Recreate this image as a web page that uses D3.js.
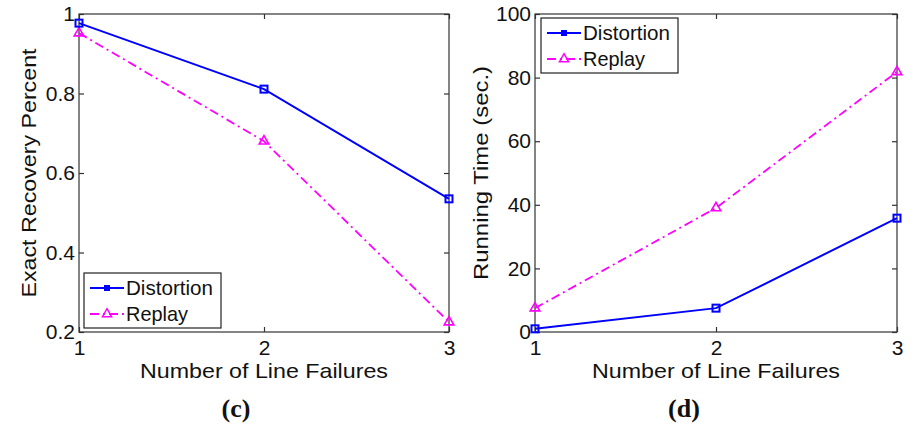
<!DOCTYPE html>
<html>
<head>
<meta charset="utf-8">
<script src="https://cdn.jsdelivr.net/npm/d3@7"></script>
<style>
  body { margin: 0; background: #fff; }
  svg text { font-family: "Liberation Sans", Arial, sans-serif; fill: #111; }
</style>
</head>
<body>
<svg id="chart" width="914" height="430"></svg>
<script>
// data
const failures = [1, 2, 3];
const seriesNames = ['Distortion', 'Replay'];

const recoveryDistortion = [0.977, 0.811, 0.535];
const recoveryReplay = [0.952, 0.680, 0.225];
const recoveryTicks = [0.2, 0.4, 0.6, 0.8, 1];

const timeDistortion = [1.0, 7.5, 35.8];
const timeReplay = [7.5, 39.0, 81.8];
const timeTicks = [0, 20, 40, 60, 80, 100];

const BLUE = '#0000ff';
const MAGENTA = '#ff00ff';
const AXIS = '#333';
const DASHDOT = '9,4,2,4';

const svg = d3.select('#chart');

function drawPanel(opts) {
    const x = d3.scaleLinear().domain([1, 3]).range([opts.left, opts.right]);
    const y = d3.scaleLinear().domain(opts.yDomain).range([opts.bottom, opts.top]);
    const g = svg.append('g');

    // box
    g.append('rect')
        .attr('x', opts.left).attr('y', opts.top)
        .attr('width', opts.right - opts.left).attr('height', opts.bottom - opts.top)
        .attr('fill', 'none').attr('stroke', AXIS).attr('stroke-width', 1.2);

    // axes with inward ticks, mirrored on top/right
    g.append('g').attr('transform', `translate(0,${opts.bottom})`)
        .call(d3.axisBottom(x).tickValues(failures).tickSize(-5).tickPadding(8).tickFormat(d3.format('d')));
    g.append('g').attr('transform', `translate(0,${opts.top})`)
        .call(d3.axisTop(x).tickValues(failures).tickSize(-5).tickFormat(''));
    g.append('g').attr('transform', `translate(${opts.left},0)`)
        .call(d3.axisLeft(y).tickValues(opts.ticks).tickSize(-5).tickPadding(4).tickFormat(opts.fmt));
    g.append('g').attr('transform', `translate(${opts.right},0)`)
        .call(d3.axisRight(y).tickValues(opts.ticks).tickSize(-5).tickFormat(''));
    g.selectAll('.domain').remove();
    g.selectAll('.tick line').attr('stroke', AXIS).attr('stroke-width', 1.2);
    g.selectAll('.tick text').attr('font-size', 21).attr('fill', '#111')
        .style('font-family', '"Liberation Sans", Arial, sans-serif');

    const line = d3.line().x((d, i) => x(failures[i])).y(d => y(d));

    // replay: magenta dash-dot with open triangles
    g.append('path').datum(opts.replay)
        .attr('d', line).attr('fill', 'none')
        .attr('stroke', MAGENTA).attr('stroke-width', 1.8)
        .attr('stroke-dasharray', DASHDOT);
    g.selectAll('.tri').data(opts.replay).join('path')
        .attr('transform', (d, i) => `translate(${x(failures[i])},${y(d)})`)
        .attr('d', d3.symbol(d3.symbolTriangle, 40))
        .attr('fill', 'none').attr('stroke', MAGENTA).attr('stroke-width', 1.6);

    // distortion: solid blue with squares
    g.append('path').datum(opts.distortion)
        .attr('d', line).attr('fill', 'none')
        .attr('stroke', BLUE).attr('stroke-width', 2);
    g.selectAll('.sq').data(opts.distortion).join('rect')
        .attr('x', (d, i) => x(failures[i]) - 3.5).attr('y', d => y(d) - 3.5)
        .attr('width', 7).attr('height', 7)
        .attr('fill', 'none').attr('stroke', BLUE).attr('stroke-width', 2);

    // axis titles
    g.append('text')
        .attr('x', (opts.left + opts.right) / 2).attr('y', 378)
        .attr('text-anchor', 'middle').attr('font-size', 21)
        .attr('textLength', 248).attr('lengthAdjust', 'spacingAndGlyphs')
        .text('Number of Line Failures');
    g.append('text')
        .attr('transform', `translate(${opts.yTitleX},${(opts.top + opts.bottom) / 2}) rotate(-90)`)
        .attr('text-anchor', 'middle').attr('font-size', 21)
        .attr('textLength', opts.yTitleLen).attr('lengthAdjust', 'spacingAndGlyphs')
        .text(opts.yTitle);
    g.append('text')
        .attr('x', opts.captionX).attr('y', 417)
        .attr('text-anchor', 'middle').attr('font-size', 26).attr('font-weight', 'bold')
        .style('font-family', '"Liberation Serif", "Times New Roman", serif')
        .text(opts.caption);

    // legend
    const lg = g.append('g').attr('transform', `translate(${opts.legend[0]},${opts.legend[1]})`);
    lg.append('rect').attr('width', 137).attr('height', 55)
        .attr('fill', '#fff').attr('stroke', '#222').attr('stroke-width', 1.2);
    const rows = [
        { name: seriesNames[0], color: BLUE, dash: null, mark: 'sq' },
        { name: seriesNames[1], color: MAGENTA, dash: DASHDOT, mark: 'tri' }
    ];
    rows.forEach((r, i) => {
        const cy = 15 + i * 26;
        lg.append('line').attr('x1', 6).attr('x2', 40).attr('y1', cy).attr('y2', cy)
            .attr('stroke', r.color).attr('stroke-width', 2)
            .attr('stroke-dasharray', r.dash);
        if (r.mark === 'sq') {
            lg.append('rect').attr('x', 20).attr('y', cy - 3).attr('width', 6).attr('height', 6)
                .attr('fill', r.color);
        } else {
            lg.append('path').attr('transform', `translate(23,${cy})`)
                .attr('d', d3.symbol(d3.symbolTriangle, 36))
                .attr('fill', 'none').attr('stroke', r.color).attr('stroke-width', 1.5);
        }
        lg.append('text').attr('x', 42).attr('y', cy + 7).attr('font-size', 21)
            .attr('textLength', i === 0 ? 87 : 62).attr('lengthAdjust', 'spacingAndGlyphs')
            .text(r.name);
    });
}

drawPanel({
    left: 79, right: 449, top: 14, bottom: 332,
    yDomain: [0.2, 1], ticks: recoveryTicks,
    fmt: d => d === 1 ? '1' : d3.format('.1f')(d),
    distortion: recoveryDistortion, replay: recoveryReplay,
    yTitle: 'Exact Recovery Percent', yTitleX: 36, yTitleLen: 249,
    caption: '(c)', captionX: 236, legend: [84, 273]
});

drawPanel({
    left: 535, right: 897, top: 14, bottom: 332,
    yDomain: [0, 100], ticks: timeTicks,
    fmt: d3.format('d'),
    distortion: timeDistortion, replay: timeReplay,
    yTitle: 'Running Time (sec.)', yTitleX: 488, yTitleLen: 214,
    caption: '(d)', captionX: 684, legend: [541, 18]
});
</script>
</body>
</html>
